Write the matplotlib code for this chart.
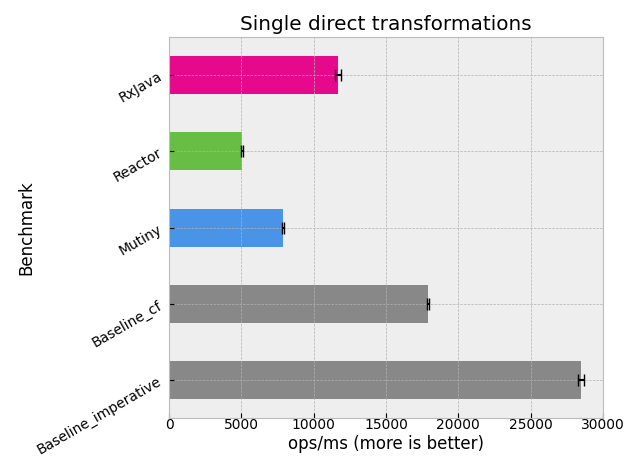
import matplotlib
matplotlib.use("Agg")
import matplotlib.pyplot as plt
import numpy as np

# benchmark results, bottom to top
benchmarks = ['Baseline_imperative', 'Baseline_cf', 'Mutiny', 'Reactor', 'RxJava']
score = [28470, 17900, 7880, 5040, 11680]
error = [200, 90, 80, 60, 200]
colors = ['#888888', '#888888', '#4a94e8', '#68be44', '#e6098b']

plt.style.use('bmh')
fig, ax = plt.subplots(figsize=(6.36, 4.57), dpi=100)
y = np.arange(len(benchmarks))
ax.barh(y, score, height=0.5, color=colors, xerr=error,
        error_kw=dict(ecolor='black', capsize=4, elinewidth=1.5, capthick=1))
ax.set_yticks(y)
ax.set_yticklabels(benchmarks, rotation=30)
ax.set_ylim(-0.5, 4.5)
ax.set_xlim(0, 30000)
ax.tick_params(axis='x', pad=0)
ax.set_xlabel('ops/ms (more is better)', labelpad=2)
ax.set_ylabel('Benchmark', labelpad=0)
ax.set_title('Single direct transformations', pad=5)
fig.subplots_adjust(left=0.266, right=0.948, top=0.919, bottom=0.085)
fig.savefig('out.png')
